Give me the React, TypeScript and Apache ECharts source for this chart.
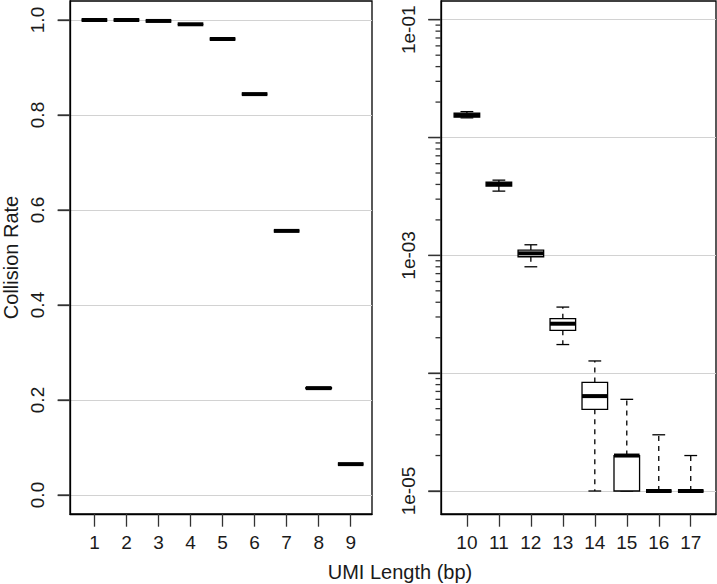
import React, { useEffect, useRef } from "react";
import * as echarts from "echarts";

// ---------- data ----------
const leftLengths = [1, 2, 3, 4, 5, 6, 7, 8, 9];
const leftMin = [1.0, 1.0, 0.998, 0.991, 0.96, 0.844, 0.556, 0.224, 0.065];
const leftQ1 = [1.0, 1.0, 0.998, 0.991, 0.96, 0.844, 0.556, 0.224, 0.065];
const leftMedian = [1.0, 1.0, 0.998, 0.991, 0.96, 0.844, 0.556, 0.225, 0.065];
const leftQ3 = [1.0, 1.0, 0.998, 0.991, 0.96, 0.844, 0.556, 0.226, 0.065];
const leftMax = [1.0, 1.0, 0.998, 0.991, 0.96, 0.844, 0.556, 0.226, 0.065];

const rightLengths = [10, 11, 12, 13, 14, 15, 16, 17];
const rightMin = [1.47e-2, 3.51e-3, 8.0e-4, 1.75e-4, 1e-5, 1e-5, 1e-5, 1e-5];
const rightQ1 = [1.49e-2, 3.88e-3, 9.73e-4, 2.31e-4, 4.93e-5, 1e-5, 1e-5, 1e-5];
const rightMedian = [1.55e-2, 4.03e-3, 1.04e-3, 2.63e-4, 6.39e-5, 2e-5, 1e-5, 1e-5];
const rightQ3 = [1.61e-2, 4.19e-3, 1.11e-3, 2.9e-4, 8.35e-5, 2e-5, 1e-5, 1e-5];
const rightMax = [1.66e-2, 4.35e-3, 1.23e-3, 3.64e-4, 1.27e-4, 6e-5, 3e-5, 2e-5];

// ---------- ticks ----------
const leftXTicks = [1, 2, 3, 4, 5, 6, 7, 8, 9];
const rightXTicks = [10, 11, 12, 13, 14, 15, 16, 17];
const leftYTickValues = [0, 0.2, 0.4, 0.6, 0.8, 1.0];
const leftYTickLabels = ["0.0", "0.2", "0.4", "0.6", "0.8", "1.0"];
const rightYMajorTicks = [1e-5, 1e-4, 1e-3, 1e-2, 1e-1];
const rightYLabelValues = [1e-5, 1e-3, 1e-1];
const rightYLabelTexts = ["1e-05", "1e-03", "1e-01"];
const rightYMinorTicks = [
  2e-5, 3e-5, 4e-5, 5e-5, 6e-5, 7e-5, 8e-5, 9e-5,
  2e-4, 3e-4, 4e-4, 5e-4, 6e-4, 7e-4, 8e-4, 9e-4,
  2e-3, 3e-3, 4e-3, 5e-3, 6e-3, 7e-3, 8e-3, 9e-3,
  2e-2, 3e-2, 4e-2, 5e-2, 6e-2, 7e-2, 8e-2, 9e-2,
];

const yTitle = "Collision Rate";
const xTitle = "UMI Length (bp)";

// ---------- axis ranges ----------
const LEFT_X_MIN = 0.238;
const LEFT_X_MAX = 9.665;
const RIGHT_X_MIN = 9.19;
const RIGHT_X_MAX = 17.79;
const LEFT_Y_MIN = -0.04;
const LEFT_Y_MAX = 1.04;
const RIGHT_Y_MIN = 6.38e-6;
const RIGHT_Y_MAX = 0.1442;

// ---------- style ----------
const FONT = "'Liberation Sans', Arial, Helvetica, sans-serif";
const TEXT = "#1a1a1a";
const INK = "#000000";
const TICK = "#333333";
const GRIDLINE = "#d2d2d2";
const TICK_FONT = 19;

function lookupLabel(values: number[], labels: string[], v: number): string {
  for (let i = 0; i < values.length; i++) {
    const ref = values[i];
    if (Math.abs(v - ref) <= Math.max(1e-9, Math.abs(ref) * 1e-6)) return labels[i];
  }
  return "";
}

function boxSeries(
  xs: number[], mins: number[], q1s: number[], meds: number[], q3s: number[], maxs: number[],
  axisIndex: number
) {
  return {
    type: "custom",
    xAxisIndex: axisIndex,
    yAxisIndex: axisIndex,
    clip: false,
    z: 3,
    encode: { x: 0, y: [1, 2, 3, 4, 5] },
    data: xs.map((x, i) => [x, mins[i], q1s[i], meds[i], q3s[i], maxs[i]]),
    renderItem: (params: any, api: any) => {
      const x = api.value(0);
      const c = (v: number) => api.coord([x, v]);
      const pMin = c(api.value(1));
      const pQ1 = c(api.value(2));
      const pMed = c(api.value(3));
      const pQ3 = c(api.value(4));
      const pMax = c(api.value(5));
      const left = api.coord([x - 0.4, api.value(3)])[0];
      const right = api.coord([x + 0.4, api.value(3)])[0];
      const cx = pMed[0];
      const half = (right - left) / 2;
      const st = half / 2;
      const thin = { stroke: INK, lineWidth: 1.3 };
      const dashed = { stroke: INK, lineWidth: 1.3, lineDash: [5, 5] };
      const children: any[] = [];
      if (pQ3[1] - pMax[1] > 0.5) {
        children.push({ type: "line", shape: { x1: cx, y1: pQ3[1], x2: cx, y2: pMax[1] }, style: dashed });
      }
      if (pMin[1] - pQ1[1] > 0.5) {
        children.push({ type: "line", shape: { x1: cx, y1: pQ1[1], x2: cx, y2: pMin[1] }, style: dashed });
      }
      children.push({ type: "line", shape: { x1: cx - st, y1: pMax[1], x2: cx + st, y2: pMax[1] }, style: thin });
      children.push({ type: "line", shape: { x1: cx - st, y1: pMin[1], x2: cx + st, y2: pMin[1] }, style: thin });
      children.push({
        type: "rect",
        shape: { x: cx - half, y: pQ3[1], width: half * 2, height: Math.max(0, pQ1[1] - pQ3[1]) },
        style: { fill: "#ffffff", stroke: INK, lineWidth: 1.3 },
      });
      children.push({
        type: "line",
        shape: { x1: cx - half, y1: pMed[1], x2: cx + half, y2: pMed[1] },
        style: { stroke: INK, lineWidth: 4 },
      });
      return { type: "group", children };
    },
  };
}

// y tick marks drawn by an extra axis: each label is a small filled bar at a tick value
function tickLabelAxis(gridIndex: number, type: string, min: number, max: number, values: number[], len: number) {
  return {
    type, logBase: 10, gridIndex, min, max, position: "left",
    axisLine: { show: false, onZero: false },
    axisTick: { show: false },
    splitLine: { show: false },
    axisLabel: {
      show: true, customValues: values, margin: 0, align: "right", verticalAlign: "middle",
      formatter: () => "{t| }",
      rich: { t: { width: len, height: 1.3, lineHeight: 1.3, fontSize: 1, backgroundColor: TICK, padding: 0 } },
    },
  };
}

export default function App() {
  const ref = useRef<HTMLDivElement>(null);

  useEffect(() => {
    if (!ref.current) return;
    const chart = echarts.init(ref.current, null, { renderer: "svg" });

    const tickStyle = { color: TICK, width: 1.3 };
    const axisLine = { show: true, onZero: false, lineStyle: { color: INK, width: 1.3 } };
    const labelBase = { fontFamily: FONT, fontSize: TICK_FONT, color: TEXT };

    const option: any = {
      animation: false,
      backgroundColor: "#ffffff",
      grid: [
        { left: 70, top: 1, width: 302, height: 513, show: true, borderColor: INK, borderWidth: 1.3, backgroundColor: "transparent" },
        { left: 441, top: 1, width: 275, height: 513, show: true, borderColor: INK, borderWidth: 1.3, backgroundColor: "transparent" },
      ],
      xAxis: [
        {
          type: "value", gridIndex: 0, min: LEFT_X_MIN, max: LEFT_X_MAX, position: "bottom",
          axisLine,
          axisTick: { show: true, customValues: leftXTicks, length: 12.7, lineStyle: tickStyle },
          axisLabel: { ...labelBase, customValues: leftXTicks, margin: 19, formatter: (v: number) => String(Math.round(v)) },
          splitLine: { show: false },
        },
        {
          type: "value", gridIndex: 1, min: RIGHT_X_MIN, max: RIGHT_X_MAX, position: "bottom",
          axisLine,
          axisTick: { show: true, customValues: rightXTicks, length: 12.7, lineStyle: tickStyle },
          axisLabel: { ...labelBase, customValues: rightXTicks, margin: 19, formatter: (v: number) => String(Math.round(v)) },
          splitLine: { show: false },
        },
      ],
      yAxis: [
        {
          type: "value", gridIndex: 0, min: LEFT_Y_MIN, max: LEFT_Y_MAX, position: "left",
          axisLine,
          axisTick: { show: true, customValues: leftYTickValues, length: 12.3, lineStyle: tickStyle },
          axisLabel: {
            ...labelBase, customValues: leftYTickValues, rotate: 90, margin: 23,
            formatter: (v: number) => lookupLabel(leftYTickValues, leftYTickLabels, v),
          },
          splitLine: { show: true, lineStyle: { color: GRIDLINE, width: 1.2 } },
          name: yTitle, nameLocation: "middle", nameGap: 49,
          nameTextStyle: { fontFamily: FONT, fontSize: 20, color: TEXT },
        },
        {
          type: "log", logBase: 10, gridIndex: 1, min: RIGHT_Y_MIN, max: RIGHT_Y_MAX, position: "left",
          axisLine,
          axisTick: { show: true, customValues: rightYMajorTicks, length: 12.7, lineStyle: tickStyle },
          axisLabel: {
            ...labelBase, customValues: rightYLabelValues, rotate: 90, margin: 23,
            formatter: (v: number) => {
              const t = lookupLabel(rightYLabelValues, rightYLabelTexts, v);
              return t === rightYLabelTexts[rightYLabelTexts.length - 1] ? `{top|${t}}` : t;
            },
            rich: { top: { fontFamily: FONT, fontSize: TICK_FONT, color: TEXT, padding: [0, 20, 0, 0] } },
          },
          splitLine: { show: true, lineStyle: { color: GRIDLINE, width: 1.2 } },
        },
        tickLabelAxis(0, "value", LEFT_Y_MIN, LEFT_Y_MAX, leftYTickValues, 12.3),
        tickLabelAxis(1, "log", RIGHT_Y_MIN, RIGHT_Y_MAX, rightYMajorTicks, 12.7),
        tickLabelAxis(1, "log", RIGHT_Y_MIN, RIGHT_Y_MAX, rightYMinorTicks, 5.5),
      ],
      graphic: [
        {
          type: "text", x: 400, y: 572, z: 10,
          style: { text: xTitle, fontFamily: FONT, fontSize: 20, fill: TEXT, textAlign: "center", textVerticalAlign: "middle" },
        },
      ],
      series: [
        boxSeries(leftLengths, leftMin, leftQ1, leftMedian, leftQ3, leftMax, 0),
        boxSeries(rightLengths, rightMin, rightQ1, rightMedian, rightQ3, rightMax, 1),
      ],
    };

    chart.setOption(option);
    return () => chart.dispose();
  }, []);

  return <div ref={ref} style={{ position: "fixed", left: 0, top: 0, width: 717, height: 584 }} />;
}
